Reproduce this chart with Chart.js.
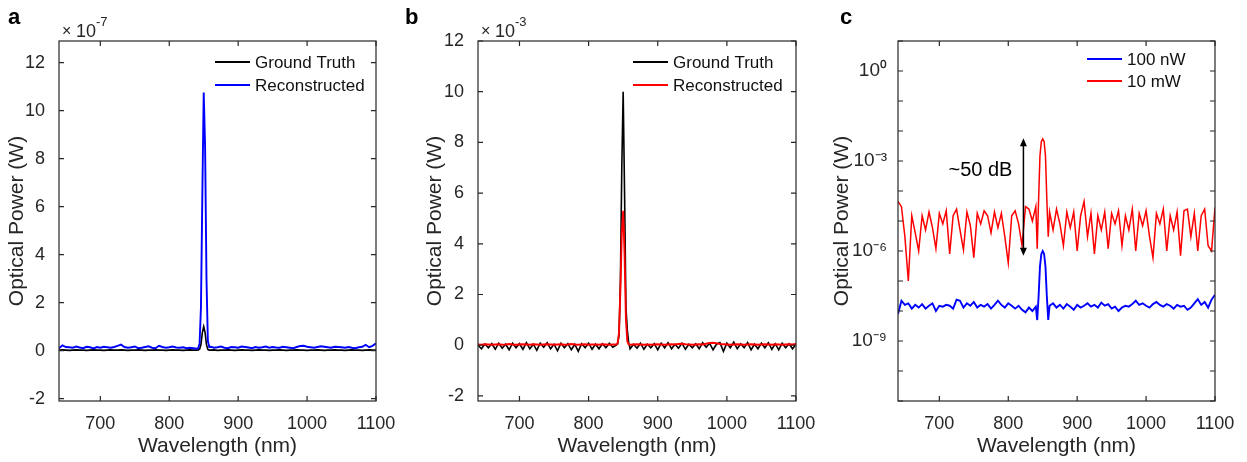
<!DOCTYPE html>
<html>
<head>
<meta charset="utf-8">
<script src="https://cdn.jsdelivr.net/npm/chart.js@4"></script>
<style>
body { margin:0; background:#fff; }
canvas { position:absolute; top:0; }
</style>
</head>
<body>
<canvas id="pa" width="400" height="462" style="left:0px"></canvas>
<canvas id="pb" width="430" height="462" style="left:400px"></canvas>
<canvas id="pc" width="417" height="462" style="left:830px"></canvas>
<script>
// wavelength grid (nm), finer around the 850 nm line
const wl = [
  640,645,650,655,660,665,670,675,680,685,
  690,695,700,705,710,715,720,725,730,735,
  740,745,750,755,760,765,770,775,780,785,
  790,795,800,805,810,815,820,825,830,835,
  840,842,844,846,848,850,852,854,856,858,
  860,865,870,875,880,885,890,895,900,905,
  910,915,920,925,930,935,940,945,950,955,
  960,965,970,975,980,985,990,995,1000,1005,
  1010,1015,1020,1025,1030,1035,1040,1045,1050,1055,
  1060,1065,1070,1075,1080,1085,1090,1095,1100
];

// panel a, units of 1e-7 W
const aTruth = [
  0.02,0.03,0.02,0.01,0.02,0.03,0.02,0.02,0.01,0.02,
  0.03,0.02,0.02,0.01,0.02,0.03,0.02,0.02,0.03,0.02,
  0.01,0.02,0.02,0.03,0.02,0.01,0.02,0.02,0.03,0.02,
  0.02,0.01,0.02,0.03,0.02,0.02,0.01,0.02,0.03,0.02,
  0.02,0.03,0.06,0.25,0.75,1.0,0.75,0.25,0.05,0.02,
  0.02,0.03,0.01,0.02,0.02,0.03,0.02,0.01,0.02,0.03,
  0.02,0.02,0.01,0.02,0.03,0.02,0.02,0.01,0.02,0.02,
  0.03,0.02,0.01,0.02,0.02,0.03,0.02,0.02,0.01,0.02,
  0.02,0.03,0.02,0.01,0.02,0.02,0.03,0.02,0.02,0.01,
  0.02,0.03,0.02,0.02,0.01,0.02,0.03,0.02,0.02
];
const aRecon = [
  0.1,0.22,0.15,0.14,0.12,0.17,0.13,0.1,0.16,0.14,
  0.09,0.15,0.12,0.16,0.14,0.12,0.15,0.2,0.25,0.15,
  0.12,0.14,0.17,0.1,0.12,0.15,0.18,0.12,0.1,0.2,
  0.15,0.12,0.14,0.17,0.13,0.12,0.14,0.1,0.12,0.1,
  0.08,0.1,0.3,1.8,6.5,10.75,8.5,3.0,0.4,0.15,
  0.16,0.12,0.14,0.17,0.12,0.1,0.15,0.14,0.12,0.17,
  0.15,0.13,0.1,0.15,0.12,0.14,0.17,0.12,0.15,0.13,
  0.12,0.16,0.14,0.12,0.1,0.15,0.19,0.2,0.16,0.14,
  0.12,0.15,0.18,0.16,0.14,0.12,0.16,0.15,0.14,0.12,
  0.15,0.12,0.1,0.14,0.16,0.24,0.14,0.2,0.3
];

// panel b, units of 1e-3 W
const bTruth = [
  0.0,-0.14,0.05,-0.1,0.06,-0.16,0.08,-0.12,0.04,-0.18,
  0.08,-0.1,0.06,-0.16,0.1,-0.14,0.04,-0.2,0.08,-0.08,
  0.1,-0.14,0.04,-0.22,0.08,-0.1,0.06,-0.18,0.04,-0.24,
  0.06,-0.1,0.08,-0.16,0.04,-0.14,0.06,-0.1,0.08,-0.08,
  0.0,0.05,0.4,2.5,7.0,10.0,6.0,1.5,0.6,0.1,
  -0.14,0.04,-0.12,0.08,-0.16,0.04,-0.1,0.06,-0.18,0.08,
  -0.1,0.1,-0.14,0.04,-0.12,0.08,-0.16,0.04,-0.1,0.06,
  -0.14,0.1,-0.08,0.08,-0.18,0.04,0.1,-0.24,0.08,-0.1,
  0.12,-0.14,0.06,-0.1,0.1,-0.18,0.04,-0.14,0.08,-0.1,
  0.1,-0.16,0.06,-0.18,0.08,-0.1,0.06,-0.14,0.04
];
const bRecon = [
  0.03,0.02,0.04,0.03,0.02,0.03,0.04,0.02,0.03,0.05,
  0.03,0.02,0.03,0.04,0.03,0.02,0.04,0.03,0.02,0.03,
  0.04,0.03,0.02,0.03,0.04,0.02,0.03,0.05,0.03,0.02,
  0.03,0.04,0.02,0.03,0.03,0.02,0.04,0.03,0.02,0.03,
  0.03,0.08,0.5,2.2,4.4,5.3,3.6,1.0,0.15,0.03,
  0.02,0.03,0.04,0.03,0.02,0.03,0.02,0.03,0.04,0.03,
  0.02,0.03,0.04,0.03,0.05,0.06,0.04,0.03,0.02,0.03,
  0.04,0.03,0.06,0.09,0.1,0.08,0.05,0.04,0.03,0.02,
  0.03,0.04,0.03,0.02,0.03,0.04,0.03,0.02,0.03,0.04,
  0.03,0.02,0.04,0.03,0.02,0.03,0.04,0.03,0.05
];

// panel c, W (log axis)
const cLow = [
  8e-9,2.2e-8,1.6e-8,1.8e-8,1.2e-8,1.6e-8,1.3e-8,1.7e-8,1.2e-8,1.5e-8,
  1.8e-8,1.0e-8,1.5e-8,1.4e-8,1.6e-8,1.5e-8,1.2e-8,2.4e-8,2.2e-8,1.3e-8,
  1.8e-8,1.5e-8,2.0e-8,1.3e-8,1.6e-8,1.4e-8,1.7e-8,1.2e-8,1.6e-8,2.2e-8,
  1.6e-8,1.3e-8,1.8e-8,1.5e-8,1.2e-8,1.5e-8,1.1e-8,9e-9,1.3e-8,1.0e-8,
  1.4e-8,5e-9,3e-8,3e-7,8e-7,1.0e-6,8e-7,3e-7,3e-8,5e-9,
  1.5e-8,1.8e-8,1.3e-8,1.6e-8,1.2e-8,1.7e-8,1.4e-8,1.1e-8,1.6e-8,1.3e-8,
  1.5e-8,1.8e-8,1.4e-8,1.6e-8,1.3e-8,1.9e-8,1.5e-8,1.7e-8,1.2e-8,1.4e-8,
  1.0e-8,1.3e-8,1.5e-8,1.4e-8,1.7e-8,2.2e-8,1.6e-8,1.8e-8,1.5e-8,1.3e-8,
  1.7e-8,2.0e-8,1.6e-8,1.4e-8,1.7e-8,1.5e-8,1.2e-8,1.6e-8,1.4e-8,1.5e-8,
  1.1e-8,1.3e-8,1.8e-8,2.5e-8,1.6e-8,2.0e-8,1.3e-8,2.4e-8,3.5e-8
];
const cHigh = [
  4.5e-5,3e-5,3e-6,1e-7,1.5e-5,4e-6,1e-6,1.5e-5,5e-6,2e-5,
  6e-6,1.2e-6,1.8e-5,8e-6,2.2e-5,8e-7,1.5e-5,2.5e-5,5e-6,1.1e-6,
  2e-5,7e-6,6e-7,1.8e-5,8e-6,2.2e-5,1.5e-5,4e-6,2e-5,6e-6,
  1.8e-5,3e-6,4e-7,1.5e-5,2.2e-5,8e-6,1.5e-6,3e-5,2.5e-5,1e-5,
  3e-5,1.2e-6,5e-5,1.5e-3,4.5e-3,5.5e-3,4.5e-3,1.5e-3,5e-5,3e-6,
  2e-5,5e-6,2.5e-5,8e-6,1.5e-6,2e-5,6e-6,2e-5,1e-6,1.5e-5,
  4.5e-5,3e-6,1.8e-5,8e-7,1.5e-5,5e-6,2e-5,1.2e-6,1.8e-5,8e-6,
  2.2e-5,1.5e-6,1.5e-5,5e-6,2.5e-5,1e-6,1.8e-5,7e-6,2.2e-5,3e-6,
  6e-7,1.8e-5,8e-6,2.5e-5,1e-6,1.5e-5,5e-6,2e-5,7e-7,2.2e-5,
  2.5e-5,3e-6,1.8e-5,1e-6,1.5e-5,2.5e-5,1.5e-6,1e-6,2.8e-5
];

const xTicks = [700, 800, 900, 1000, 1100];
const abTicks = [-2, 0, 2, 4, 6, 8, 10, 12];
const cTickExps = [0, -3, -6, -9];
const cTickLabels = ['10⁰', '10⁻³', '10⁻⁶', '10⁻⁹'];

const ink = '#262626';
const fam = "'Liberation Sans', Arial, sans-serif";
Chart.defaults.font.family = fam;
Chart.defaults.color = ink;

function pts(ys) {
  return wl.map((x, i) => ({ x: x, y: ys[i] }));
}

const frame = {
  id: 'frame',
  afterDraw(chart, args, o) {
    const ctx = chart.ctx, a = chart.chartArea;
    const xs = chart.scales.x, ys = chart.scales.y;
    ctx.save();
    ctx.strokeStyle = ink;
    ctx.lineWidth = 1.2;
    ctx.strokeRect(a.left, a.top, a.right - a.left, a.bottom - a.top);
    ctx.beginPath();
    xs.ticks.forEach(t => {
      const px = xs.getPixelForValue(t.value);
      ctx.moveTo(px, a.bottom); ctx.lineTo(px, a.bottom - 5);
      ctx.moveTo(px, a.top); ctx.lineTo(px, a.top + 5);
    });
    ys.ticks.forEach(t => {
      const py = ys.getPixelForValue(t.value);
      ctx.moveTo(a.left, py); ctx.lineTo(a.left + 5, py);
      ctx.moveTo(a.right, py); ctx.lineTo(a.right - 5, py);
    });
    ctx.stroke();

    // panel letter
    ctx.fillStyle = '#000';
    ctx.textAlign = 'left';
    ctx.textBaseline = 'alphabetic';
    ctx.font = 'bold 22px ' + fam;
    ctx.fillText(o.letter, o.letterX, 24);

    // x10^n factor
    if (o.power) {
      ctx.fillStyle = ink;
      ctx.font = '16px ' + fam;
      ctx.fillText('×', a.left + 3, 36);
      ctx.font = '18px ' + fam;
      ctx.fillText('10', a.left + 17, 37);
      ctx.font = '13px ' + fam;
      ctx.fillText(o.power, a.left + 37, 26);
    }

    // legend inside the axes
    ctx.font = '17px ' + fam;
    ctx.textBaseline = 'middle';
    chart.data.datasets.forEach((d, i) => {
      const y = a.top + o.legY[i];
      ctx.strokeStyle = d.borderColor;
      ctx.lineWidth = 2;
      ctx.beginPath();
      ctx.moveTo(a.left + o.legX, y);
      ctx.lineTo(a.left + o.legX + 35, y);
      ctx.stroke();
      ctx.fillStyle = '#111';
      ctx.fillText(d.label, a.left + o.legX + 40, y + 1);
    });

    // double arrow + label
    if (o.arrow) {
      const ar = o.arrow;
      const px = xs.getPixelForValue(ar.x);
      const y1 = ys.getPixelForValue(ar.y1), y2 = ys.getPixelForValue(ar.y2);
      ctx.strokeStyle = '#000';
      ctx.fillStyle = '#000';
      ctx.lineWidth = 1.5;
      ctx.beginPath();
      ctx.moveTo(px, y1 + 6); ctx.lineTo(px, y2 - 6);
      ctx.stroke();
      ctx.beginPath();
      ctx.moveTo(px, y1); ctx.lineTo(px - 3.5, y1 + 8); ctx.lineTo(px + 3.5, y1 + 8); ctx.closePath();
      ctx.moveTo(px, y2); ctx.lineTo(px - 3.5, y2 - 8); ctx.lineTo(px + 3.5, y2 - 8); ctx.closePath();
      ctx.fill();
      ctx.font = '20px ' + fam;
      ctx.textAlign = 'right';
      ctx.fillText(ar.text, px - 11, ys.getPixelForValue(ar.ty));
    }
    ctx.restore();
  }
};

function makeChart(id, datasets, yScale, plug, leftW, rightPad, titlePad) {
  yScale.afterFit = s => { s.width = leftW; };
  yScale.grid = { display: false };
  yScale.border = { display: false };
  yScale.title = { display: true, text: 'Optical Power (W)', color: ink,
    font: { size: 21 }, padding: { top: titlePad, bottom: 0 } };
  new Chart(document.getElementById(id), {
    type: 'line',
    data: { datasets: datasets },
    options: {
      responsive: false,
      animation: false,
      layout: { padding: { top: 41, right: rightPad, left: 0, bottom: 0 } },
      elements: { point: { radius: 0 }, line: { tension: 0 } },
      plugins: { legend: { display: false }, tooltip: { enabled: false }, frame: plug },
      scales: {
        x: {
          type: 'linear', min: 640, max: 1100,
          afterBuildTicks: s => { s.ticks = xTicks.map(v => ({ value: v })); },
          afterFit: s => { s.height = 61; },
          grid: { display: false }, border: { display: false },
          ticks: { font: { size: 18 }, padding: 4, maxRotation: 0, autoSkip: false,
            callback: v => String(v) },
          title: { display: true, text: 'Wavelength (nm)', color: ink,
            font: { size: 21 }, padding: { top: 0, bottom: 3 } }
        },
        y: yScale
      }
    },
    plugins: [frame]
  });
}

makeChart('pa', [
  { label: 'Ground Truth', data: pts(aTruth), borderColor: '#000000', borderWidth: 1.6, order: 1 },
  { label: 'Reconstructed', data: pts(aRecon), borderColor: '#0000ff', borderWidth: 1.9, order: 0 }
], {
  type: 'linear', min: -2.1, max: 12.9,
  afterBuildTicks: s => { s.ticks = abTicks.map(v => ({ value: v })); },
  ticks: { font: { size: 18 }, padding: 6, autoSkip: false }
}, { letter: 'a', letterX: 8, power: '-7', legX: 156, legY: [21, 44] }, 59, 24, 5);

makeChart('pb', [
  { label: 'Ground Truth', data: pts(bTruth), borderColor: '#000000', borderWidth: 1.6, order: 1 },
  { label: 'Reconstructed', data: pts(bRecon), borderColor: '#ff0000', borderWidth: 1.9, order: 0 }
], {
  type: 'linear', min: -2.2, max: 12,
  afterBuildTicks: s => { s.ticks = abTicks.map(v => ({ value: v })); },
  ticks: { font: { size: 18 }, padding: 6, autoSkip: false }
}, { letter: 'b', letterX: 5, power: '-3', legX: 155, legY: [21, 44] }, 78, 34, 23);

makeChart('pc', [
  { label: '100 nW', data: pts(cLow), borderColor: '#0000ff', borderWidth: 1.9 },
  { label: '10 mW', data: pts(cHigh), borderColor: '#ff0000', borderWidth: 1.5 }
], {
  type: 'logarithmic', min: 1e-11, max: 10,
  afterBuildTicks: s => {
    const t = [];
    for (let e = -11; e <= 1; e++) t.push({ value: Math.pow(10, e) });
    s.ticks = t;
  },
  ticks: { font: { size: 19 }, padding: 3, autoSkip: false,
    callback: v => {
      const k = cTickExps.indexOf(Math.round(Math.log10(v)));
      return k >= 0 ? cTickLabels[k] : '';
    } }
}, { letter: 'c', letterX: 10, legX: 189, legY: [18, 40],
     arrow: { x: 822, y1: 5.7e-3, y2: 6.9e-7, ty: 4.8e-4, text: '~50 dB' } }, 68, 32, 0);
</script>
</body>
</html>
